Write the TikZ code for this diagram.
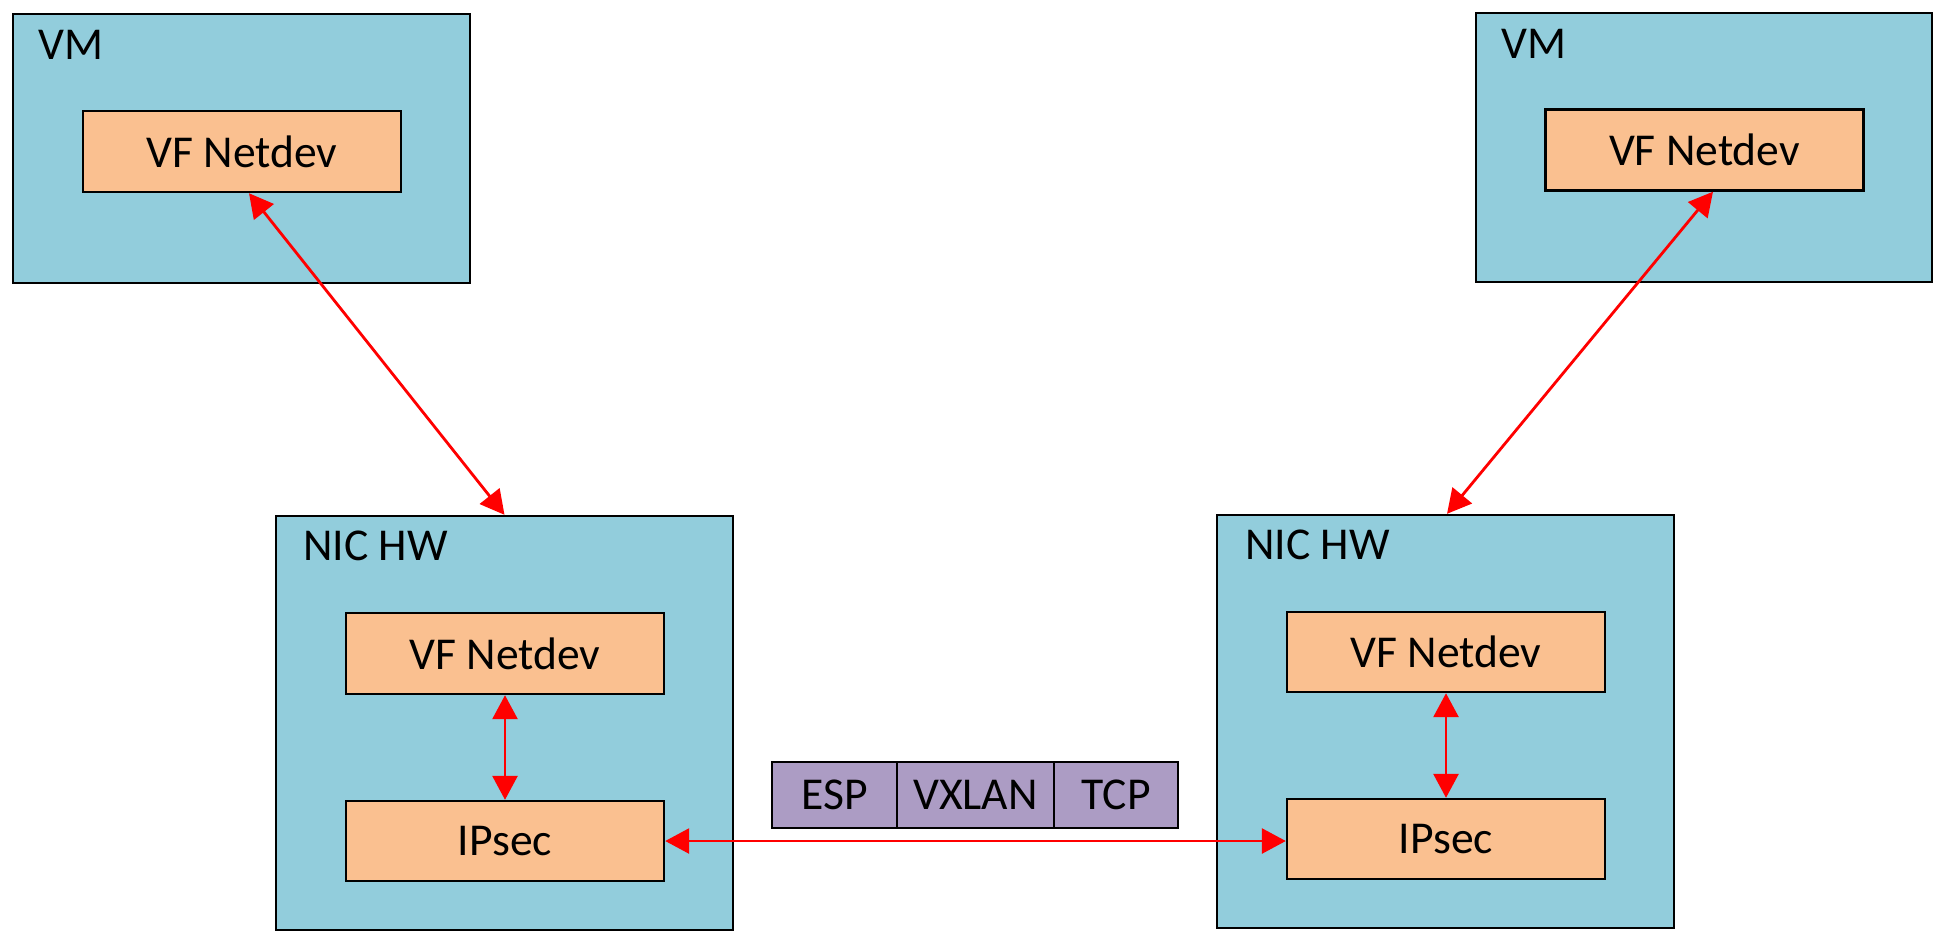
\documentclass[tikz,border=0pt]{standalone}
\usepackage{fontspec}
\setmainfont{Carlito}
\usetikzlibrary{arrows.meta}
\definecolor{boxblue}{RGB}{146,205,220}
\definecolor{boxorange}{RGB}{250,192,144}
\definecolor{boxpurple}{RGB}{172,156,196}
\definecolor{arrred}{RGB}{255,0,0}
\tikzset{
  outerbox/.style={draw=black, fill=boxblue, line width=1.2pt, inner sep=0pt, minimum width=228.5pt, rectangle},
  innerbox/.style={draw=black, fill=boxorange, line width=1.2pt, inner sep=0pt, minimum width=159pt, minimum height=40.5pt, rectangle, font=\fontsize{22.8}{26}\selectfont},
  pktbox/.style={draw=black, fill=boxpurple, line width=1.2pt, inner sep=0pt, minimum height=33pt, rectangle, font=\fontsize{22.8}{26}\selectfont},
  boxlabel/.style={anchor=base west, inner sep=0pt, font=\fontsize{22.8}{26}\selectfont},
  link/.style={draw=arrred, line width=1.4pt, {Triangle[length=12pt,width=12.5pt]}-{Triangle[length=12pt,width=12.5pt]}}
}
\begin{document}
\begin{tikzpicture}[x=0.5pt,y=-0.5pt]
\useasboundingbox (0,0) rectangle (1954,950);
% VMs
\node[outerbox, minimum height=134.5pt] (vma) at (241.5,148.5) {};
\node[boxlabel] (vmalab) at (38,59) {VM};
\node[innerbox] (vfa) at (242,151.5) {VF Netdev};
\node[outerbox, minimum height=134.5pt, minimum width=228pt] (vmb) at (1704,147.5) {};
\node[boxlabel] (vmblab) at (1501,58) {VM};
\node[innerbox] (vfb) at (1704.5,150) {VF Netdev};
% NICs
\node[outerbox, minimum height=207pt] (nica) at (504.5,723) {};
\node[boxlabel] (nicalab) at (303,560) {NIC HW};
\node[innerbox] (nvfa) at (505,653.5) {VF Netdev};
\node[innerbox, minimum height=40pt] (ipa) at (505,841) {IPsec};
\node[outerbox, minimum height=206.5pt] (nicb) at (1445.5,721.5) {};
\node[boxlabel] (nicblab) at (1245,559) {NIC HW};
\node[innerbox, minimum height=40pt] (nvfb) at (1446,652) {VF Netdev};
\node[innerbox, minimum height=40pt] (ipb) at (1446,839) {IPsec};
% packet
\node[pktbox, minimum width=62.5pt] (esp) at (834.5,795) {ESP};
\node[pktbox, minimum width=78.5pt] (vxlan) at (975.5,795) {VXLAN};
\node[pktbox, minimum width=62pt] (tcp) at (1116,795) {TCP};
% connectors
\draw[link] ([xshift=3.5pt]vfa.south) -- (nica.north);
\draw[link] ([xshift=4.25pt]vfb.south) -- ([xshift=0.75pt]nicb.north);
\draw[link] (nvfa.south) -- (ipa.north);
\draw[link] (nvfb.south) -- (ipb.north);
\draw[link] (ipa.east) -- (ipa.east -| ipb.west);
\end{tikzpicture}
\end{document}
